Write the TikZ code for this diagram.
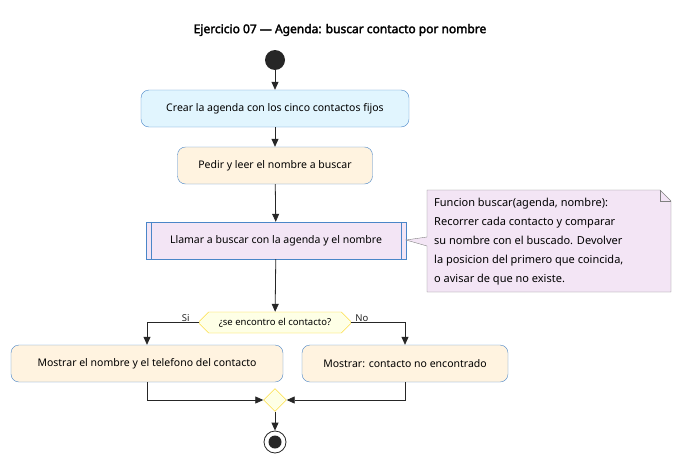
\documentclass[tikz,border=0pt]{standalone}
\usepackage{fontspec}
\setmainfont{Noto Sans}[AutoFakeBold=2.5]
\usetikzlibrary{positioning,shapes.geometric,shapes.misc,arrows.meta}
\definecolor{actblue}{HTML}{E1F5FE}
\definecolor{actorange}{HTML}{FFF3E0}
\definecolor{actlilac}{HTML}{F3E5F5}
\definecolor{decyellow}{HTML}{FEFFE6}
\definecolor{edgeblue}{HTML}{4A86C8}
\begin{document}
\begin{tikzpicture}[x=1pt,y=-1pt,
  every node/.style={font=\fontsize{10.5}{13}\selectfont},
  act/.style={draw=edgeblue, rounded corners=8pt, minimum height=37pt, inner xsep=8pt},
  flow/.style={-{Triangle[length=8pt,width=7pt]}, line width=0.8pt, black!85},
  lbl/.style={font=\fontsize{9.5}{11}\selectfont, inner sep=1pt}]
\useasboundingbox (0,0) rectangle (682,463);
\node[font=\bfseries\fontsize{12}{14}\selectfont] (title) at (340,30) {Ejercicio 07 — Agenda: buscar contacto por nombre};
\node[circle, fill=black!85, minimum size=20pt, inner sep=0pt] (start) at (275,60) {};
\node[act, fill=actblue, minimum width=268pt] (crear) at (275,108.5) {Crear la agenda con los cinco contactos fijos};
\node[act, fill=actorange, minimum width=195pt] (pedir) at (275,165.5) {Pedir y leer el nombre a buscar};
\node[draw=edgeblue, fill=actlilac, minimum width=260pt, minimum height=37pt] (llamar) at (276,240.5) {Llamar a buscar con la agenda y el nombre};
\draw[edgeblue] ([xshift=5pt]llamar.north west) -- ([xshift=5pt]llamar.south west)
  ([xshift=-5pt]llamar.north east) -- ([xshift=-5pt]llamar.south east);
% nota
\fill[actlilac, draw=black!50] (427,190) -- (660,190) -- (671,201) -- (671,292) -- (427,292) -- (427,246) -- (406,240) -- (427,237) -- cycle;
\draw[black!50] (660,190) -- (660,201) -- (671,201);
\node[anchor=north west, align=left, inner sep=0pt, font=\fontsize{11}{19}\selectfont] (nota) at (434,198)
  {Funcion buscar(agenda, nombre):\\Recorrer cada contacto y comparar\\su nombre con el buscado. Devolver\\la posicion del primero que coincida,\\o avisar de que no existe.};
\node[chamfered rectangle, chamfered rectangle xsep=10pt, draw=yellow!70!orange, fill=decyellow,
  minimum width=151pt, minimum height=21pt, inner sep=1pt, lbl] (dec) at (275,322.5) {¿se encontro el contacto?};
\node[act, fill=actorange, minimum width=272pt] (mostrar) at (147,363.5) {Mostrar el nombre y el telefono del contacto};
\node[act, fill=actorange, minimum width=206pt] (nohay) at (405,363.5) {Mostrar: contacto no encontrado};
\node[diamond, draw=yellow!70!orange, fill=decyellow, minimum size=23pt, inner sep=0pt] (merge) at (275,400) {};
\node[circle, draw=black!85, line width=0.8pt, minimum size=22pt, inner sep=0pt] (fin) at (275,442) {};
\node[circle, fill=black!85, minimum size=13pt, inner sep=0pt] at (fin) {};
\draw[flow] (start) -- (crear);
\draw[flow] (crear) -- (pedir);
\draw[flow] (pedir) -- (llamar);
\draw[flow] (llamar) -- (dec);
\draw[flow] (dec.west) -| node[pos=0.08, anchor=south east, lbl] {Si} (mostrar.north);
\draw[flow] (dec.east) -| node[pos=0.03, anchor=south west, lbl] {No} (nohay.north);
\draw[flow] (mostrar.south) |- (merge.west);
\draw[flow] (nohay.south) |- (merge.east);
\draw[flow] (merge) -- (fin);
\end{tikzpicture}
\end{document}
